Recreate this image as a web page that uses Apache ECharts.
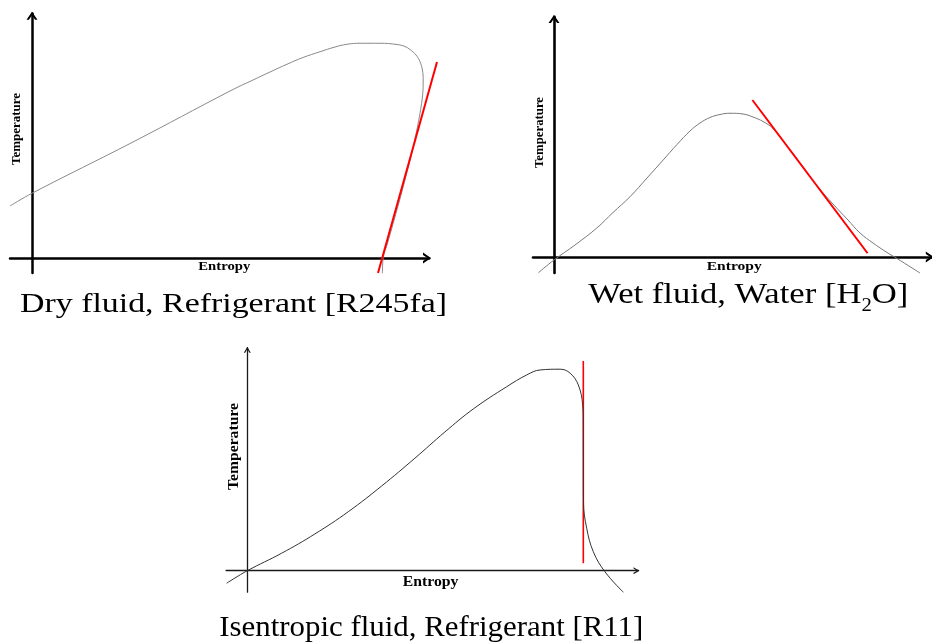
<!DOCTYPE html>
<html>
<head>
<meta charset="utf-8">
<script src="https://cdn.jsdelivr.net/npm/echarts@6/dist/echarts.min.js"></script>
<style>
  html, body { margin: 0; padding: 0; background: #fff; }
  #chart { width: 932px; height: 643px; }
</style>
</head>
<body>
<div id="chart"></div>
<script>
// T-s saturation domes, arbitrary units (origin where the two axes cross)
const dryCurve = [
  [-5.5, 20.8], [0, 25.9], [25.25, 46.4], [49.5, 66.8], [55.25, 71.2], [59.5, 74.4],
  [63.75, 77.5], [67.75, 80.2], [72, 82.5], [75.75, 84.4], [78.75, 85.5], [82, 85.9],
  [87, 85.9], [91.25, 85.4], [93.25, 84.6], [94.5, 83.4], [96, 81.2], [97, 78.5],
  [97.6, 75.2], [97.8, 71.2], [97.4, 61.9], [95.3, 44.5], [92.8, 28.5], [90.3, 13.9],
  [88.9, 6], [87.8, 0], [87.6, -6.1]
];
const dryTangent = [[101.25, 78.4], [86.5, -6]];

const wetCurve = [
  [-3.9, -6.3], [0, -1.2], [5.25, 4.8], [10.7, 11.6], [14.75, 17.8], [19, 24.1],
  [23.25, 31.6], [27.3, 38.8], [30.75, 45], [34, 50.4], [36.5, 53.6], [39, 55.8],
  [41.5, 57], [44, 57.5], [47.25, 57.2], [49.75, 56], [52.25, 54.2], [54.75, 51.4],
  [58.5, 44], [62.25, 36], [66, 28], [69.75, 21.2], [73.5, 14.8], [76.5, 9.6],
  [79.75, 5.6], [83.25, 1.8], [85.75, -0.6], [91.5, -6.4]
];
const wetTangent = [[49.6, 62.8], [78.4, 1.5]];

const isenCurve = [
  [-5.15, -5], [0, 0], [8.6, 7], [16.9, 14.7], [25.25, 23.6], [33.6, 33.9],
  [41.9, 45], [49.4, 55.5], [56.5, 64.7], [64.85, 73.6], [69.85, 78.3], [73.2, 80.3],
  [78.2, 80.6], [80.7, 79], [82.75, 74.3], [83.85, 66.3], [84, 60.3], [84.02, 44.3],
  [84.05, 27.5], [84.85, 17], [86.5, 7.6], [89.4, -0.4], [94, -8.6]
];
const isenTangent = [[84, 83.9], [84, 3]];

const captions = [
  'Dry fluid, Refrigerant [R245fa]',
  ['Wet fluid, Water [H', '2', 'O]'],
  'Isentropic fluid, Refrigerant [R11]'
];
const xName = 'Entropy';
const yName = 'Temperature';

// ---------------------------------------------------------------
const FONT = '"Liberation Serif", "Times New Roman", serif';
const MID = 0.32; // em-middle above the baseline
const measureCtx = document.createElement('canvas').getContext('2d');
function textWidth(s, font) { measureCtx.font = font; return measureCtx.measureText(s).width; }

function txtStyle(text, font, align) {
  return { text, font, fill: '#000', align, verticalAlign: 'middle',
           textAlign: align, textVerticalAlign: 'middle' };
}
// horizontal text stretched to a given width, left edge and baseline fixed
function fitText(str, left, baseline, size, width, bold) {
  const font = (bold ? 'bold ' : '') + size + 'px ' + FONT;
  return { type: 'text', silent: true, x: left, y: baseline - MID * size,
           scaleX: width / textWidth(str, font), style: txtStyle(str, font, 'left') };
}
// vertical (bottom-to-top) text centred on (cx, cy)
function vText(str, cx, cy, size, length) {
  const font = 'bold ' + size + 'px ' + FONT;
  return { type: 'text', silent: true, x: cx, y: cy, rotation: Math.PI / 2,
           scaleX: length / textWidth(str, font), style: txtStyle(str, font, 'center') };
}
// caption with a subscript in the middle part
function subCaption(parts, left, baseline, size, subSize, drop, width) {
  const f = size + 'px ' + FONT, fs = subSize + 'px ' + FONT;
  const w1 = textWidth(parts[0], f), w2 = textWidth(parts[1], fs), w3 = textWidth(parts[2], f);
  return { type: 'group', silent: true, x: left, y: 0, scaleX: width / (w1 + w2 + w3), children: [
    { type: 'text', x: 0, y: baseline - MID * size, style: txtStyle(parts[0], f, 'left') },
    { type: 'text', x: w1, y: baseline + drop - MID * subSize, style: txtStyle(parts[1], fs, 'left') },
    { type: 'text', x: w1 + w2, y: baseline - MID * size, style: txtStyle(parts[2], f, 'left') }
  ]};
}

// open chevron arrow head, pointing along the axis
function chevron(w, h, t) {
  const L = Math.sqrt(h * h + (w / 2) * (w / 2));
  const e = t * L / h, d = 2 * t * L / w;
  return 'path://M0,' + h + 'L' + (w / 2) + ',0L' + w + ',' + h + 'L' + (w - e) + ',' + h +
         'L' + (w / 2) + ',' + d + 'L' + e + ',' + h + 'Z';
}

function axis(gridIndex, min, max, arrow, width, color) {
  return {
    type: 'value', gridIndex, min, max,
    axisLine: {
      show: true, onZero: true,
      symbol: ['none', chevron(arrow.w, arrow.h, arrow.t)],
      symbolSize: [arrow.w, arrow.h],
      symbolOffset: [0, arrow.back],
      lineStyle: { color, width }
    },
    axisTick: { show: false }, axisLabel: { show: false }, splitLine: { show: false }
  };
}
// invisible axis that shares a panel's scale but reaches further out
function hiddenAxis(gridIndex, min, max) {
  return { type: 'value', gridIndex, min, max, show: false };
}

function curve(idx, data, color, width, z) {
  return { type: 'line', xAxisIndex: idx, yAxisIndex: idx, data, smooth: 0.4,
           symbol: 'none', showSymbol: false, clip: false, z,
           lineStyle: { color, width }, emphasis: { disabled: true } };
}

const bigArrow = { w: 11, h: 8, t: 2, back: -2.2 };
const smallArrow = { w: 7, h: 6, t: 1.2, back: -2 };

const chart = echarts.init(document.getElementById('chart'));
chart.setOption({
  animation: false,
  backgroundColor: '#fff',
  grid: [
    { left: 10, top: 13.5, width: 419.2, height: 259.5, outerBoundsMode: 'none' },
    { left: 533, top: 16.75, width: 399, height: 256.25, outerBoundsMode: 'none' },
    { left: 226.1, top: 347.7, width: 412.4, height: 244.5, outerBoundsMode: 'none' },
    // same scale as the first panel, wider extent for the tangent line
    { left: 10, top: 8, width: 434, height: 265, outerBoundsMode: 'none' }
  ],
  xAxis: [
    axis(0, -5.5, 99.3, bigArrow, 2.5, '#000'),
    axis(1, -5.25, 94.5, bigArrow, 2.6, '#000'),
    axis(2, -5.3, 97.8, smallArrow, 1.3, '#1a1a1a'),
    hiddenAxis(3, -5.5, 103)
  ],
  yAxis: [
    axis(0, -6, 97.8, bigArrow, 2.5, '#000'),
    axis(1, -6.4, 96.1, bigArrow, 2.6, '#000'),
    axis(2, -8.6, 89.2, smallArrow, 1.3, '#1a1a1a'),
    hiddenAxis(3, -6, 100)
  ],
  series: [
    curve(0, dryCurve, '#8a8a8a', 1, 2),
    curve(3, dryTangent, '#ff0000', 2, 3),
    curve(1, wetCurve, '#7a7a7a', 1, 2),
    curve(1, wetTangent, '#ff0000', 2, 3),
    curve(2, isenTangent, '#ff0000', 1.6, 2),
    curve(2, isenCurve, '#333333', 1, 3)
  ],
  graphic: { elements: [
    vText(yName, 17, 129, 13, 72),
    fitText(xName, 198.3, 270.3, 11.5, 52, true),
    fitText(captions[0], 20, 313.3, 28, 427, false),

    vText(yName, 539.3, 132.5, 13, 71),
    fitText(xName, 706.7, 270.7, 11.5, 55, true),
    subCaption(captions[1], 588.3, 305, 30, 18, 6.7, 320),

    vText(yName, 234.5, 446.5, 15, 87),
    fitText(xName, 402.7, 586.7, 15, 55.7, true),
    fitText(captions[2], 219.3, 638, 30, 424, false)
  ]}
});
</script>
</body>
</html>
